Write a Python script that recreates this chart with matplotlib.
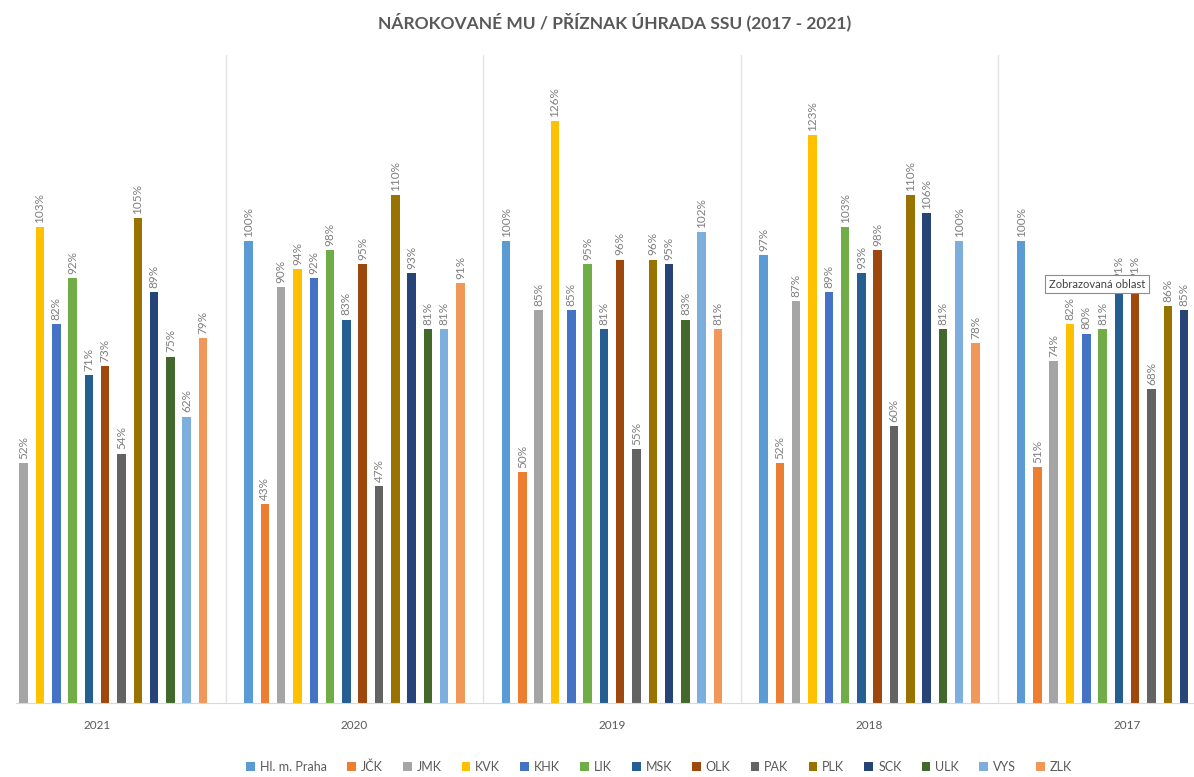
import matplotlib
matplotlib.use("Agg")
import matplotlib.pyplot as plt
import numpy as np

plt.rcParams["font.family"] = ["Lato", "DejaVu Sans"]

years = ["2021", "2020", "2019", "2018", "2017"]
regions = ["Hl. m. Praha", "JČK", "JMK", "KVK", "KHK", "LIK", "MSK",
           "OLK", "PAK", "PLK", "SCK", "ULK", "VYS", "ZLK"]
colors = ["#5B9BD5", "#ED7D31", "#A5A5A5", "#FFC000", "#4472C4", "#70AD47",
          "#255E91", "#9E480E", "#636363", "#997300", "#264478", "#43682B",
          "#7CAFDD", "#F1975A"]

nan = np.nan
# values in % per year (rows follow `years`, columns follow `regions`)
v2021 = [nan, nan, 52, 103, 82, 92, 71, 73, 54, 105, 89, 75, 62, 79]
v2020 = [100, 43, 90, 94, 92, 98, 83, 95, 47, 110, 93, 81, 81, 91]
v2019 = [100, 50, 85, 126, 85, 95, 81, 96, 55, 96, 95, 83, 102, 81]
v2018 = [97, 52, 87, 123, 89, 103, 93, 98, 60, 110, 106, 81, 100, 78]
v2017 = [100, 51, 74, 82, 80, 81, 91, 91, 68, 86, 85, nan, nan, nan]
values = np.array([v2021, v2020, v2019, v2018, v2017], dtype=float)

W, H = 1194, 777
fig = plt.figure(figsize=(W / 100, H / 100), dpi=100)
ax = fig.add_axes([16 / W, (H - 703) / H, 1 - 16 / W, (703 - 55) / H])

step = 0.0633
width = 0.033
x = np.arange(len(years))
label_color = "#7F7F7F"
for j, (name, col) in enumerate(zip(regions, colors)):
    pos = x + (j - 6.5) * step
    ax.bar(pos, values[:, j], width=width, color=col, label=name, zorder=2)
    for p, v in zip(pos, values[:, j]):
        if np.isnan(v):
            continue
        ax.text(p, v + 0.9, f"{v:.0f}%", rotation=90, ha="center", va="bottom",
                fontsize=8.5, color=label_color, clip_on=True)

ax.set_xlim(-0.3146, 4.26)
ax.set_ylim(0, 140.3)
for b in x[:-1] + 0.5:
    ax.axvline(b, color="#E3E3E3", linewidth=1.0, zorder=1)
for s in ["top", "right", "left"]:
    ax.spines[s].set_visible(False)
ax.spines["bottom"].set_color("#D9D9D9")
ax.set_yticks([])
ax.set_xticks(x, years)
ax.tick_params(axis="x", length=0, labelsize=8.5, labelcolor="#595959", pad=12)

fig.text(0.515, 0.972, "NÁROKOVANÉ MU / PŘÍZNAK ÚHRADA SSU (2017 - 2021)",
         ha="center", va="center", fontsize=12.5, fontweight="bold", color="#595959")

fig.legend(loc="center", bbox_to_anchor=(0.552, 0.013), ncol=14, frameon=False,
           fontsize=9, handlelength=0.7, handleheight=0.7, handletextpad=0.4,
           columnspacing=1.6, labelcolor="#595959")

fig.text(1049 / W, 1 - 284 / H, "Zobrazovaná oblast", ha="left", va="center",
         fontsize=8, color="#404040", zorder=10,
         bbox=dict(boxstyle="square,pad=0.35", facecolor="white", edgecolor="#8C8C8C",
                   linewidth=0.8))

fig.savefig("out.png", dpi=100, facecolor="white")
